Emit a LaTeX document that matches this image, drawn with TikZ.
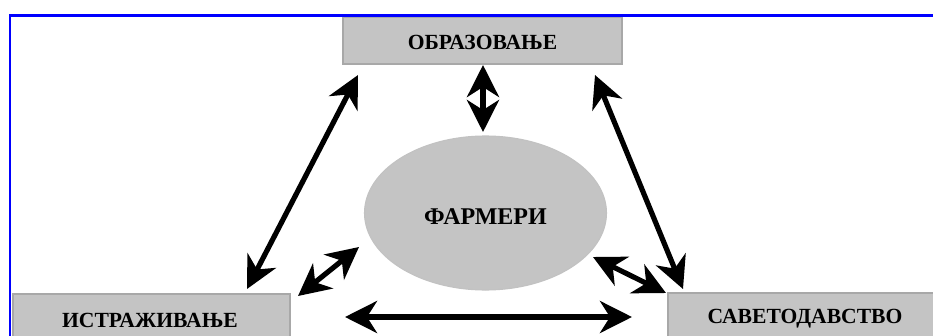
\documentclass[tikz,border=0pt]{standalone}
\usepackage{fontspec}
\setmainfont{Liberation Serif}
\usetikzlibrary{arrows.meta,shapes.geometric}
\definecolor{boxgray}{HTML}{C4C4C4}
\definecolor{edgegray}{HTML}{A8A8A8}
\definecolor{framebl}{HTML}{0000FF}
\tikzset{
  box/.style={fill=boxgray, draw=edgegray, line width=0.8pt},
  lbl/.style={font=\bfseries\fontsize{16.2}{18}\selectfont, inner sep=0pt},
  link/.style={line width=3.9pt, black, {Stealth[length=24pt,width=24pt,inset=7.5pt]}-{Stealth[length=24pt,width=24pt,inset=7.5pt]}},
}
\begin{document}
\begin{tikzpicture}[x=0.75pt,y=-0.75pt]
\useasboundingbox (0,0) rectangle (933,336);
\clip (0,0) rectangle (933,336);
\fill[white] (0,0) rectangle (933,336);
% frame
\draw[framebl, line width=1.6pt] (10,345) -- (10,15.5) -- (945,15.5);
% boxes
\draw[box] (343,17.5) rectangle (622,64);
\node[lbl] (obr) at (482.5,42.5) {ОБРАЗОВАЊЕ};
\draw[box] (13,294) rectangle (290,350);
\node[lbl] (ist) at (150,320) {ИСТРАЖИВАЊЕ};
\draw[box] (668,293) rectangle (950,350);
\node[lbl] (sav) at (805,319) {САВЕТОДАВСТВО};
% ellipse
\node[ellipse, fill=boxgray, draw=edgegray!70, line width=0.8pt, minimum width=181.5pt, minimum height=115.5pt, inner sep=0pt] (ell) at (485.5,213) {};
\node[lbl, font=\bfseries\fontsize{18}{20}\selectfont] (far) at (485.5,217) {ФАРМЕРИ};
% arrow end points
\coordinate (a1) at (358,75);  \coordinate (a2) at (247,289);
\coordinate (b1) at (483,65);  \coordinate (b2) at (483,132);
\coordinate (c1) at (595,75);  \coordinate (c2) at (683,289);
\coordinate (d1) at (359,247); \coordinate (d2) at (298,296);
\coordinate (e1) at (593,257); \coordinate (e2) at (666,293);
\coordinate (f1) at (345,317); \coordinate (f2) at (632,317);
\draw[link] (a1) -- (a2);
\draw[link] (b1) -- (b2);
\draw[link] (c1) -- (c2);
\draw[link] (d1) -- (d2);
\draw[link] (e1) -- (e2);
\draw[link] (f1) -- (f2);
\end{tikzpicture}
\end{document}
